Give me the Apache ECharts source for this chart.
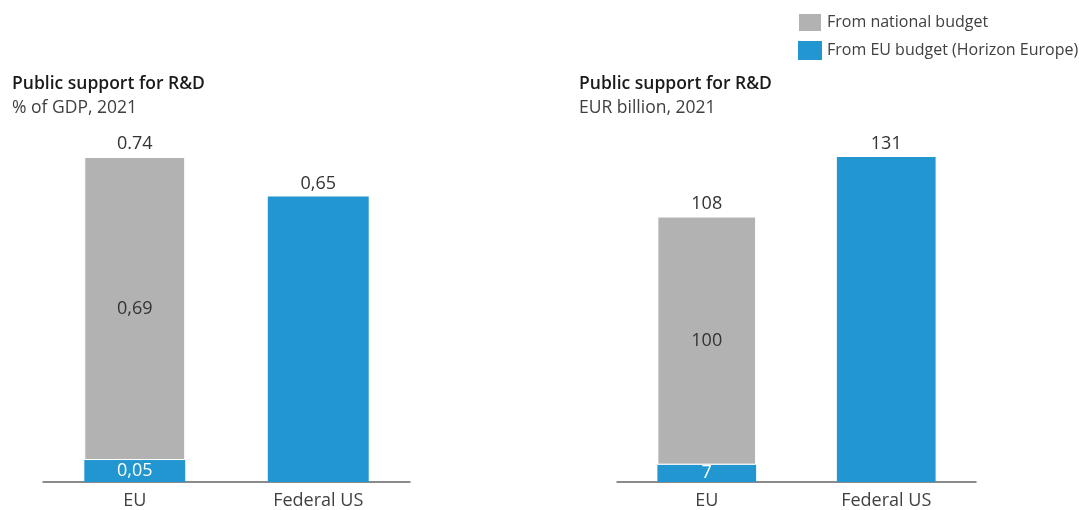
<!DOCTYPE html>
<html>
<head>
<meta charset="utf-8">
<script src="https://cdn.jsdelivr.net/npm/echarts@6/dist/echarts.min.js"></script>
<style>html,body{margin:0;padding:0;background:#fff}#c{width:1079px;height:510px}</style>
</head>
<body>
<div id="c"></div>
<script>
const categories = ['EU', 'Federal US'];
const seriesNames = ['From national budget', 'From EU budget (Horizon Europe)'];
const gdpNational = [0.69, null];
const gdpEU = [0.05, 0.65];
const gdpTotalLabels = ['0.74', ''];
const eurNational = [100, null];
const eurEU = [7, 131];
const eurTotalLabels = ['108', ''];
const titleMain = 'Public support for R&D';
const subtitleLeft = '% of GDP, 2021';
const subtitleRight = 'EUR billion, 2021';

const GRAY = '#b2b2b2', BLUE = '#2196d0', TXT = '#333333';
const FONT = '"Open Sans", "Noto Sans", sans-serif';
const fmt = v => String(v).replace('.', ',');

function makeSeries(idx, national, eu, totals) {
  return [
    {
      name: seriesNames[1], type: 'bar', stack: 's' + idx, xAxisIndex: idx, yAxisIndex: idx,
      barWidth: '55%',
      itemStyle: { color: BLUE },
      data: eu.map((v, i) => ({
        value: v,
        label: national[i] == null
          ? { show: true, position: 'top', color: TXT, distance: 4 }
          : { show: true, position: 'inside', color: '#ffffff' }
      })),
      label: { fontSize: 18, fontFamily: FONT, formatter: p => fmt(p.value) }
    },
    {
      name: seriesNames[0], type: 'bar', stack: 's' + idx, xAxisIndex: idx, yAxisIndex: idx,
      barWidth: '55%',
      itemStyle: { color: GRAY, borderColor: '#ffffff', borderWidth: 1 },
      data: national.map(v => v == null ? '-' : v),
      label: { show: true, position: 'inside', color: TXT, fontSize: 18, fontFamily: FONT,
               formatter: p => fmt(p.value) }
    },
    {
      name: 'total', type: 'bar', stack: 's' + idx, xAxisIndex: idx, yAxisIndex: idx,
      barWidth: '55%',
      itemStyle: { color: 'transparent' },
      data: totals.map(t => t === '' ? '-' : 0),
      label: { show: true, position: 'top', color: TXT, fontSize: 18, fontFamily: FONT, distance: 4,
               formatter: p => totals[p.dataIndex] }
    }
  ];
}

const axisX = idx => ({
  type: 'category', gridIndex: idx, data: categories,
  axisLine: { lineStyle: { color: '#666666', width: 1.5 } },
  axisTick: { show: false },
  axisLabel: { color: '#404040', fontSize: 18, fontFamily: FONT, margin: 10 }
});
const axisY = (idx, max) => ({
  type: 'value', gridIndex: idx, min: 0, max: max, show: false, splitLine: { show: false }
});

const chart = echarts.init(document.getElementById('c'));
chart.setOption({
  animation: false,
  textStyle: { fontFamily: FONT },
  title: [
    { text: titleMain, subtext: subtitleLeft, left: 12, top: 75, itemGap: 6, padding: 0,
      textStyle: { fontSize: 17.5, fontWeight: 600, color: '#1a1a1a', fontFamily: FONT },
      subtextStyle: { fontSize: 17.5, color: '#404040', fontFamily: FONT } },
    { text: titleMain, subtext: subtitleRight, left: 579, top: 75, itemGap: 6, padding: 0,
      textStyle: { fontSize: 17.5, fontWeight: 600, color: '#1a1a1a', fontFamily: FONT },
      subtextStyle: { fontSize: 17.5, color: '#404040', fontFamily: FONT } }
  ],
  legend: {
    data: seriesNames, orient: 'vertical', left: 797, top: 12, padding: 0, itemWidth: 24, itemHeight: 19,
    itemGap: 8, icon: 'rect',
    textStyle: { fontSize: 16, color: '#404040', fontFamily: FONT }
  },
  grid: [
    { left: 43, width: 367, top: 157, bottom: 28 },
    { left: 617, width: 359, top: 157, bottom: 28 }
  ],
  xAxis: [axisX(0), axisX(1)],
  yAxis: [axisY(0, 0.74), axisY(1, 131)],
  series: [...makeSeries(0, gdpNational, gdpEU, gdpTotalLabels),
           ...makeSeries(1, eurNational, eurEU, eurTotalLabels)]
});
</script>
</body>
</html>
